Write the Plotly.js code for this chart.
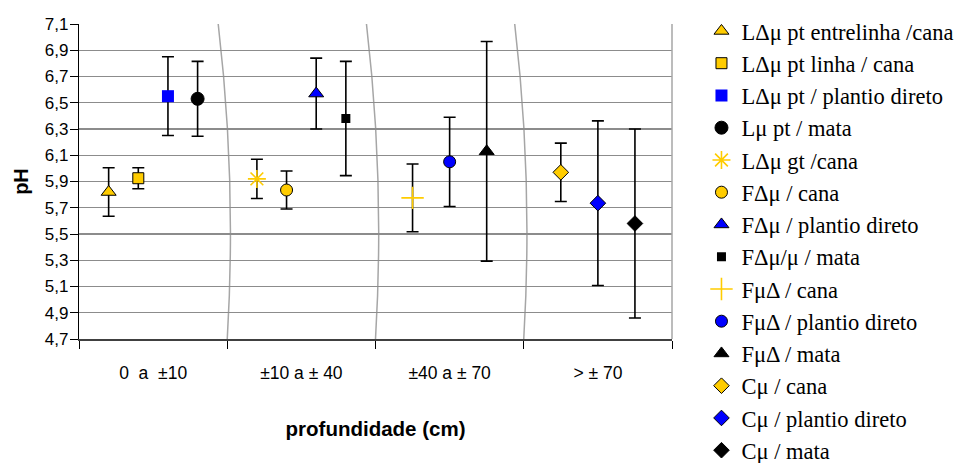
<!DOCTYPE html>
<html>
<head>
<meta charset="utf-8">
<script src="https://cdn.plot.ly/plotly-3.0.1.min.js"></script>
<style>
  html, body { margin: 0; padding: 0; background: #ffffff; }
  #chart { width: 966px; height: 463px; }
</style>
</head>
<body>
<div id="chart"></div>
<script>
// ---- data ----
const categories = ["0\u00a0\u00a0a\u00a0\u00a0±10", "±10 a ± 40", "±40 a ± 70", "> ± 70"];

const seriesNames = [
  "LΔμ pt entrelinha /cana",
  "LΔμ pt linha / cana",
  "LΔμ pt / plantio direto",
  "Lμ pt / mata",
  "LΔμ gt /cana",
  "FΔμ / cana",
  "FΔμ / plantio direto",
  "FΔμ/μ / mata",
  "FμΔ / cana",
  "FμΔ / plantio direto",
  "FμΔ / mata",
  "Cμ / cana",
  "Cμ / plantio direto",
  "Cμ / mata"
];

// depth class (index into categories) for each series
const seriesCategory = [0, 0, 0, 0, 1, 1, 1, 1, 2, 2, 2, 3, 3, 3];

// mean pH
const meanPH = [5.82, 5.925, 6.55, 6.53, 5.92, 5.835, 6.57, 6.38, 5.775, 6.05, 6.13, 5.97, 5.735, 5.58];

// error (±) on pH
const errPH = [0.185, 0.08, 0.30, 0.285, 0.15, 0.145, 0.27, 0.435, 0.258, 0.34, 0.837, 0.222, 0.627, 0.72];

// ---- styles ----
const GOLD = "#FFCC00", BLUE = "#0000FF", BLACK = "#000000";
const symbols = ["triangle-up", "square", "square", "circle", "asterisk-open", "circle", "triangle-up", "square",
                 "cross-thin-open", "circle", "triangle-up", "diamond", "diamond", "diamond"];
const fills   = [GOLD, GOLD, BLUE, BLACK, GOLD, GOLD, BLUE, BLACK, GOLD, BLUE, BLACK, GOLD, BLUE, BLACK];
const outline = [BLACK, BLACK, BLUE, BLACK, GOLD, BLACK, BLACK, BLACK, GOLD, BLACK, BLACK, BLACK, BLACK, BLACK];
const sizes   = [13, 11, 12, 13, 15, 12, 13, 9, 16, 12, 13, 12, 12, 12];
const lineW   = [1, 1, 0, 1, 1.6, 1, 1, 0, 1.6, 1, 1, 1, 1, 1];

// position inside each depth class: evenly spaced slots
const counts = categories.map((_, c) => seriesCategory.filter(v => v === c).length);
const seen = categories.map(() => 0);
const xpos = seriesCategory.map(c => {
  seen[c] += 1;
  return c + seen[c] / (counts[c] + 1);
});

const traces = seriesNames.map((name, i) => ({
  type: "scatter",
  mode: "markers",
  name: name,
  x: [xpos[i]],
  y: [meanPH[i]],
  error_y: { type: "data", array: [errPH[i]], visible: true, color: BLACK, thickness: 1.6, width: 6 },
  marker: {
    symbol: symbols[i],
    size: sizes[i],
    color: fills[i],
    line: { color: outline[i], width: lineW[i] }
  },
  cliponaxis: false
}));

// decorative curved separators between depth classes
function sep(b) {
  const x0 = b - 0.061, x2 = b, xc = b + 0.064;
  return {
    type: "path", xref: "x", yref: "y", layer: "below",
    path: `M ${x0},7.1 Q ${xc},5.9 ${x2},4.7`,
    line: { color: "#a6a6a6", width: 1.5 }
  };
}

const tickVals = [];
for (let v = 4.7; v <= 7.1001; v += 0.2) tickVals.push(+v.toFixed(1));

const layout = {
  width: 966, height: 463,
  margin: { l: 79, r: 294, t: 24, b: 124, autoexpand: false },
  paper_bgcolor: "#ffffff", plot_bgcolor: "#ffffff",
  separators: ",.",
  font: { family: "Liberation Sans, Arial, sans-serif", size: 15, color: "#000" },
  showlegend: true,
  legend: {
    x: 1.0497, xanchor: "left", y: 1.045, yanchor: "top",
    font: { family: "Liberation Serif, Times New Roman, serif", size: 22.5, color: "#000" },
    tracegroupgap: 0,
    maxheight: 900,
    bgcolor: "rgba(0,0,0,0)", borderwidth: 0
  },
  xaxis: {
    range: [0, 4], fixedrange: true,
    tickmode: "array",
    tickvals: categories.map((_, i) => i + 0.5),
    ticktext: categories,
    ticks: "", showgrid: false, zeroline: false,
    showline: true, linecolor: "#404040", linewidth: 1.5,
    ticklabelstandoff: 17,
    tickfont: { family: "Liberation Sans, Arial, sans-serif", size: 17.5, color: "#000" },
    minor: { tickmode: "linear", tick0: 0, dtick: 1, ticks: "outside", ticklen: 8, tickcolor: "#000", tickwidth: 1, showgrid: false },
    title: { text: "<b>profundidade (cm)</b>", standoff: 40,
             font: { family: "Liberation Sans, Arial, sans-serif", size: 20.5, color: "#000" } }
  },
  yaxis: {
    range: [4.7, 7.1], fixedrange: true,
    tickmode: "array", tickvals: tickVals, tickformat: ".1f",
    ticks: "outside", ticklen: 8, tickcolor: "#000", tickwidth: 1,
    showline: true, linecolor: "#000", linewidth: 1.2,
    showgrid: true, gridcolor: "#8c8c8c", gridwidth: 1.2, zeroline: false,
    ticklabelstandoff: -2,
    tickfont: { family: "Liberation Sans, Arial, sans-serif", size: 17, color: "#000" },
    title: { text: "<b>pH</b>", standoff: 10,
             font: { family: "Liberation Sans, Arial, sans-serif", size: 20, color: "#000" } }
  },
  shapes: [
    sep(1), sep(2), sep(3),
    { type: "line", xref: "paper", yref: "paper", x0: 1, x1: 1, y0: 0, y1: 1,
      line: { color: "#a6a6a6", width: 1.5 } }
  ]
};

Plotly.newPlot("chart", traces, layout, { displayModeBar: false, staticPlot: true });
</script>
</body>
</html>
